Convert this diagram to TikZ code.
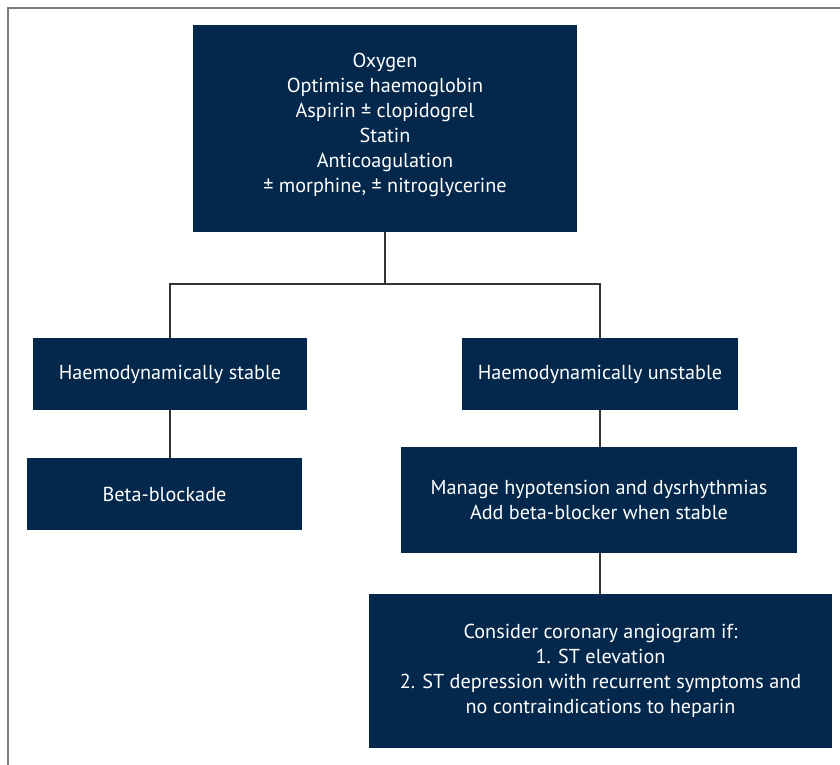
\documentclass[tikz,border=0pt]{standalone}
\usepackage{fontspec}
\setmainfont{PT Sans}
\definecolor{navy}{HTML}{03284C}
\definecolor{framegray}{HTML}{7A7A7A}
\definecolor{linegray}{HTML}{333333}
\tikzset{
  box/.style={fill=navy, draw=none, text=white, align=center, font=\fontsize{20.2}{25}\selectfont, inner sep=0pt},
  conn/.style={draw=linegray, line width=1.5pt},
}
\begin{document}
\begin{tikzpicture}[x=1pt,y=-1pt]
\useasboundingbox (0,0) rectangle (840,765);
\draw[framegray, line width=1.8pt] (8,765) coordinate (fb) -- (8,8) coordinate (fc) -- (840,8) coordinate (fr);
\node[box, minimum width=384pt, minimum height=207pt] (top) at (385,128.5) {Oxygen\\Optimise haemoglobin\\Aspirin ± clopidogrel\\Statin\\Anticoagulation\\± morphine, ± nitroglycerine\rule[-12pt]{0pt}{12pt}};
\node[box, minimum width=274pt, minimum height=72pt] (stable) at (170,374) {Haemodynamically stable};
\node[box, minimum width=276pt, minimum height=72pt] (unstable) at (600,374) {Haemodynamically unstable};
\node[box, minimum width=275pt, minimum height=72pt] (beta) at (164.5,494) {Beta-blockade};
\node[box, minimum width=396pt, minimum height=106pt] (manage) at (599,500) {Manage hypotension and dysrhythmias\\Add beta-blocker when stable};
\node[box, minimum width=463pt, minimum height=154pt] (consider) at (600.5,671) {Consider coronary angiogram if:\\1. ST elevation\\2. ST depression with recurrent symptoms and\\no contraindications to heparin};
\coordinate (split) at (385,284);
\draw[conn] (top.south) -- (split);
\draw[conn] (split) -| (stable.north);
\draw[conn] (split) -| (unstable.north);
\draw[conn] (stable.south) -- (stable.south |- beta.north);
\draw[conn] (unstable.south) -- (manage.north -| unstable.south);
\draw[conn] (manage.south -| unstable.south) -- (consider.north -| unstable.south);
\end{tikzpicture}
\end{document}
